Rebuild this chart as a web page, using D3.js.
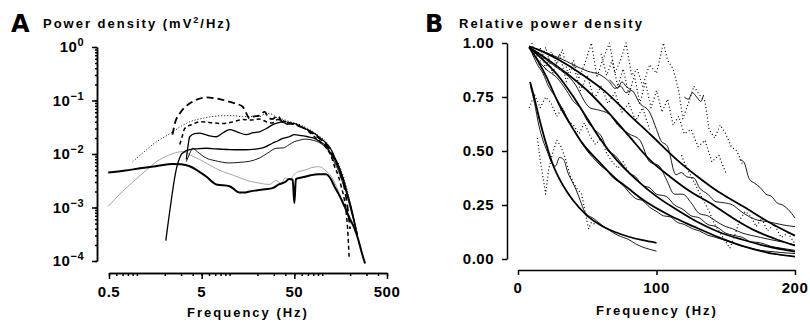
<!DOCTYPE html>
<html lang="en">
<head>
<meta charset="UTF-8" />
<title>Power density spectra</title>
<script src="https://d3js.org/d3.v7.min.js"></script>
<style>
  body { margin: 0; background: white; }
  svg { font-family: "Liberation Sans", Arial, sans-serif; font-weight: bold; }
  .axis path, .axis line { stroke: black; stroke-width: 1.5; }
  .axis text { display: none; }
  .lbl { font-size: 15px; fill: black; letter-spacing: 0.5px; }
  .title { font-size: 13px; letter-spacing: 2px; }
  .panel { font-size: 24px; font-family: "DejaVu Sans", sans-serif; }
  .curve { fill: none; stroke: black; stroke-linejoin: round; }
  .heavydash { stroke-width: 1.8; stroke-dasharray: 7 4; }
  .dotted { stroke-width: 1; stroke-dasharray: 1 2; }
  .dash { stroke-width: 1.5; stroke-dasharray: 4 3; }
  .solid { stroke-width: 1.3; }
  .thin { stroke-width: 0.9; }
  .gray { stroke: #9a9a9a; stroke-width: 0.9; }
  .thick { stroke-width: 2; }
  .fit { stroke-width: 1.8; }
  .noisy { stroke-width: 0.9; }
  .spotty { stroke-width: 1.2; stroke-dasharray: 1 2.5; }
</style>
</head>
<body>
<svg id="chart" width="810" height="322"></svg>
<script>
// ---- Panel A: power density spectra (Hz, mV^2/Hz)
const specHeavyDash = [[2.42,0.023],[2.6,0.04],[2.9,0.057],[3.3,0.075],[3.71,0.088],[4.5,0.105],[5.6,0.114],[7,0.11],[8.4,0.103],[11,0.09],[13.8,0.077],[15,0.06],[16.4,0.046],[18,0.05],[21,0.052],[24,0.062],[26,0.048],[29,0.045],[33,0.052],[37,0.04],[45,0.038],[56,0.033],[65,0.03],[80,0.024],[95,0.019],[110,0.015],[125,0.011],[135,0.008],[150,0.0055],[160,0.004],[172,0.0025],[185,0.0012],[200,0.0004]];
const specDotted = [[0.9,0.0072],[1.2,0.011],[1.63,0.017],[2,0.021],[2.44,0.026],[3,0.033],[3.71,0.04],[5,0.046],[6.5,0.05],[8.4,0.052],[11,0.052],[13.8,0.05],[17,0.05],[21,0.05],[25,0.058],[29,0.055],[33,0.047],[37,0.045],[45,0.04],[56,0.036],[70,0.03],[80,0.026],[95,0.021],[110,0.017],[125,0.012],[135,0.009],[150,0.0065],[160,0.005],[172,0.0035],[185,0.0022],[200,0.0012],[220,0.0006]];
const specDash = [[2.9,0.015],[3.1,0.022],[3.28,0.03],[4,0.036],[4.76,0.04],[6,0.039],[8.4,0.037],[11,0.04],[13.8,0.044],[17,0.043],[21,0.045],[25,0.04],[29,0.038],[33,0.044],[37,0.042],[45,0.037],[56,0.034],[70,0.027],[80,0.022],[95,0.017],[110,0.013],[125,0.009],[135,0.006],[150,0.0038],[160,0.0025],[172,0.0015],[180,0.0009],[188,0.0004],[195,0.00012]];
const specSolid1 = [[3.41,0.0079],[3.6,0.016],[3.71,0.021],[4.2,0.024],[4.76,0.0245],[5.5,0.023],[6.3,0.0215],[7.2,0.021],[8.5,0.025],[10,0.0285],[12,0.026],[15.1,0.023],[18,0.025],[21,0.026],[25,0.03],[29,0.035],[33,0.038],[37,0.04],[42,0.036],[50,0.037],[56,0.034],[65,0.03],[80,0.025],[95,0.02],[110,0.016],[125,0.012],[135,0.009],[150,0.006],[160,0.0045],[175,0.0028],[190,0.0016],[210,0.0008],[240,0.0003]];
const specSolid2 = [[2.05,0.00024],[2.2,0.0006],[2.38,0.0016],[2.55,0.0035],[2.7,0.0058],[2.9,0.0085],[3.05,0.0101],[3.71,0.0121],[4.5,0.0125],[5.6,0.0128],[7,0.0125],[10,0.0121],[13,0.012],[16.4,0.0121],[20,0.0125],[24,0.0135],[29,0.0159],[33,0.0175],[37,0.0194],[44,0.021],[50,0.023],[60,0.022],[70,0.021],[80,0.02],[95,0.017],[110,0.014],[125,0.01],[135,0.008],[150,0.0055],[160,0.004],[175,0.0025],[200,0.0012],[220,0.0006],[240,0.0003]];
const specThin = [[3.41,0.0072],[3.7,0.01],[4,0.0128],[4.5,0.011],[5.6,0.0084],[7,0.0075],[10,0.0068],[13,0.007],[16.4,0.0073],[21,0.0084],[26,0.0105],[31.8,0.0128],[38,0.013],[44,0.015],[50,0.017],[56,0.018],[65,0.019],[80,0.018],[95,0.016],[110,0.013],[125,0.0095],[135,0.007],[150,0.0048],[160,0.0035],[180,0.002],[200,0.001],[230,0.0004]];
const specGray = [[0.49,0.00105],[0.7,0.002],[1,0.0035],[1.3,0.0052],[1.63,0.0072],[2.2,0.0095],[3.12,0.0111],[3.8,0.0095],[4.76,0.0079],[6,0.0063],[8.4,0.0047],[11,0.004],[14,0.0034],[16.4,0.0031],[20,0.0029],[27,0.0027],[32,0.0032],[36,0.0028],[40,0.0036],[45,0.0033],[50,0.0042],[56,0.0047],[65,0.005],[75,0.0055],[93,0.0058],[110,0.0048],[125,0.0038],[135,0.003],[150,0.002],[160,0.0015],[180,0.0009],[200,0.0005]];
const specThick = [[0.49,0.0045],[0.75,0.0049],[1.08,0.0054],[1.6,0.0059],[2.44,0.0065],[3,0.0064],[3.71,0.0059],[4.6,0.0048],[5.6,0.0038],[7.19,0.0027],[10,0.0025],[12.8,0.0019],[14.5,0.0019],[16.4,0.002],[20,0.0021],[24,0.0022],[29,0.0023],[34,0.0027],[40,0.003],[44,0.0034],[48,0.0033],[50,0.0012],[52,0.0034],[58,0.0036],[66.8,0.0038],[75,0.004],[90,0.0042],[110,0.0042],[125,0.0033],[135,0.0025],[150,0.0018],[172,0.0011],[200,0.0006],[221,0.00042],[245,0.00025],[265,0.00015],[290,0.00009]];

const freqTicksA = [0.5, 5, 50, 500];
const powerTicksA = [1, 0.1, 0.01, 0.001, 0.0001];
const powerExpA = ["0", "\u22121", "\u22122", "\u22123", "\u22124"];

// ---- Panel B: relative power density (Hz, fraction)
const fitA = [[8.7,0.82],[12,0.74],[15,0.66],[20,0.54],[25,0.44],[30,0.37],[35,0.315],[40,0.27],[50,0.2],[60,0.155],[70,0.125],[80,0.103],[90,0.087],[100,0.075]];
const fitB = [[8,0.98],[15,0.91],[20,0.85],[30,0.71],[40,0.6],[46,0.54],[57,0.46],[70,0.375],[80,0.325],[90,0.275],[110,0.2],[127,0.15],[145,0.1],[163,0.058],[180,0.03],[200,0.011]];
const fitC = [[8,0.98],[20,0.91],[30,0.84],[39,0.76],[50,0.65],[60,0.55],[71,0.46],[85,0.37],[100,0.29],[115,0.227],[130,0.17],[145,0.125],[163,0.088],[180,0.058],[200,0.034]];
const fitD = [[8,0.98],[20,0.93],[35,0.86],[50,0.78],[65,0.68],[80,0.57],[95,0.46],[110,0.38],[125,0.31],[139,0.258],[155,0.19],[170,0.135],[185,0.095],[200,0.062]];
const fitE = [[8,0.985],[15,0.968],[30,0.92],[45,0.86],[63,0.775],[80,0.67],[96,0.574],[115,0.458],[130,0.38],[145,0.31],[163,0.242],[180,0.175],[200,0.108]];

const rawA = [[9,0.8],[12,0.72],[15,0.62],[18,0.55],[21,0.5],[24,0.45],[27,0.43],[30,0.47],[33,0.46],[36,0.4],[39,0.36],[42,0.32],[45,0.27],[48,0.22],[51,0.2],[54,0.19],[57,0.175],[60,0.16],[64,0.14],[68,0.125],[72,0.11],[76,0.1],[80,0.09],[85,0.07],[90,0.055],[95,0.045],[100,0.036]];
const rawB = [[9,0.97],[14,0.9],[18,0.86],[22,0.8],[26,0.76],[30,0.72],[35,0.66],[40,0.6],[45,0.55],[50,0.5],[54,0.47],[57,0.45],[60,0.43],[64,0.41],[68,0.38],[72,0.36],[76,0.34],[80,0.31],[85,0.28],[90,0.27],[95,0.24],[100,0.22],[105,0.2],[110,0.195],[115,0.17],[120,0.16],[126,0.14],[131,0.13],[137,0.11],[143,0.1],[150,0.085],[155,0.075],[162,0.06],[168,0.05],[175,0.04],[182,0.035],[190,0.03],[200,0.025]];
const rawC = [[10,0.96],[20,0.88],[28,0.84],[35,0.78],[40,0.73],[45,0.7],[50,0.64],[55,0.6],[60,0.57],[65,0.5],[70,0.48],[75,0.44],[80,0.4],[85,0.38],[90,0.34],[95,0.33],[100,0.3],[107,0.29],[113,0.25],[119,0.23],[125,0.2],[131,0.19],[137,0.16],[143,0.15],[150,0.12],[155,0.11],[162,0.1],[168,0.08],[175,0.075],[182,0.06],[190,0.05],[200,0.04]];
const rawD = [[10,0.97],[25,0.9],[40,0.82],[52,0.7],[58,0.69],[66,0.67],[72,0.62],[80,0.58],[88,0.55],[95,0.45],[102,0.43],[107,0.37],[113,0.3],[119,0.3],[125,0.26],[131,0.21],[137,0.2],[143,0.175],[150,0.15],[155,0.14],[162,0.12],[168,0.11],[175,0.1],[182,0.09],[190,0.08],[200,0.065]];
const rawE = [[10,0.98],[30,0.93],[50,0.87],[60,0.85],[66,0.82],[70,0.79],[74,0.8],[78,0.77],[82,0.78],[88,0.72],[95,0.68],[100,0.6],[103,0.55],[108,0.52],[114,0.39],[118,0.4],[122,0.38],[127,0.375],[131,0.33],[137,0.3],[143,0.265],[149,0.26],[155,0.25],[161,0.22],[167,0.196],[173,0.18],[180,0.173],[186,0.165],[192,0.157],[200,0.15]];
const rawWiggle1 = [[66,0.83],[69,0.81],[72,0.79],[75,0.82],[78,0.8],[82,0.78]];
const rawWiggle2 = [[120,0.75],[123,0.74],[126,0.77],[129,0.75],[132,0.73],[134,0.76]];
const rawF = [[160,0.46],[163,0.45],[167,0.37],[171,0.35],[175,0.33],[179,0.3],[183,0.29],[187,0.26],[191,0.25],[195,0.23],[200,0.19]];

const spotsTop = [[10,1.0],[13,0.93],[16,0.98],[20,0.88],[24,0.96],[28,0.9],[32,0.97],[36,0.86],[40,0.92],[44,0.84],[48,0.9],[53,1.0],[57,0.84],[61,0.92],[66,1.0],[70,0.86],[74,0.92],[78,1.0],[82,0.85],[86,0.88],[90,0.8],[95,0.9],[100,0.86],[105,1.0],[108,0.92],[112,0.88],[116,0.78],[119,0.65],[123,0.72],[127,0.8],[131,0.76],[135,0.73],[138,0.6],[142,0.56],[146,0.62],[150,0.58],[154,0.52],[158,0.5],[162,0.44]];
const spotsUpper = [[15,0.9],[20,0.98],[25,0.86],[30,0.95],[35,0.82],[40,0.9],[45,0.78],[50,0.85],[55,0.74],[60,0.8],[65,0.72],[70,0.77],[75,0.68],[80,0.72],[85,0.64],[90,0.7],[95,0.6]];
const spotsUpper2 = [[60,0.95],[64,0.85],[68,0.92],[72,0.8],[76,0.88],[80,0.76],[84,0.85],[88,0.72],[92,0.82],[96,0.7],[100,0.78],[104,0.68],[108,0.74],[112,0.62],[116,0.66],[120,0.58],[125,0.6],[130,0.52],[135,0.55],[140,0.45],[145,0.48],[150,0.4]];
const spotsMid = [[8,0.7],[12,0.76],[16,0.7],[20,0.75],[24,0.72],[28,0.66],[32,0.7],[36,0.64],[40,0.62],[44,0.58],[48,0.63],[52,0.57],[56,0.53],[60,0.56],[64,0.49],[68,0.45],[72,0.42],[76,0.45],[80,0.4],[85,0.37]];
const spotsLow = [[14,0.56],[16,0.46],[18,0.38],[20,0.3],[22,0.41],[25,0.49],[28,0.55],[31,0.52],[34,0.47],[38,0.38],[42,0.33],[46,0.3],[49,0.2],[51,0.14],[53,0.17],[56,0.16]];
const spotsRight = [[118,0.48],[122,0.42],[126,0.37],[130,0.32],[134,0.27],[138,0.22],[142,0.16],[146,0.12],[150,0.08],[153,0.05],[156,0.1],[160,0.18],[164,0.22],[168,0.2],[172,0.15],[176,0.19],[180,0.13],[185,0.16],[190,0.1],[195,0.12],[200,0.07]];

const freqTicksB = [0, 100, 200];
const relTicksB = [0, 0.25, 0.5, 0.75, 1];

const svg = d3.select("#chart");

// ================= Panel A =================
const xA = d3.scaleLog().domain([0.5, 500]).range([109, 387]);
const yA = d3.scaleLog().domain([1e-4, 1]).range([261, 47]);

const seriesA = [
  { data: specGray, cls: "gray" },
  { data: specThin, cls: "thin" },
  { data: specSolid2, cls: "solid" },
  { data: specSolid1, cls: "solid" },
  { data: specDash, cls: "dash" },
  { data: specDotted, cls: "dotted" },
  { data: specHeavyDash, cls: "heavydash" },
  { data: specThick, cls: "thick" }
];

const lineA = d3.line().x(d => xA(d[0])).y(d => yA(d[1])).curve(d3.curveMonotoneX);

svg.append("g").selectAll("path")
  .data(seriesA)
  .join("path")
  .attr("class", d => "curve " + d.cls)
  .attr("d", d => lineA(d.data));

// y axis (log) with minor ticks
const yAxisA = svg.append("g").attr("class", "axis").attr("transform", "translate(97,0)");
yAxisA.call(d3.axisLeft(yA).tickValues(yA.ticks()).tickSize(2).tickSizeOuter(0).tickFormat(""));
yAxisA.append("g").call(d3.axisLeft(yA).tickValues(powerTicksA).tickSize(5).tickSizeOuter(0).tickFormat(""));

powerTicksA.forEach((v, i) => {
  const t = svg.append("text").attr("class", "lbl")
    .attr("x", 84).attr("y", yA(v) + 5).attr("text-anchor", "end");
  t.append("tspan").text("10");
  t.append("tspan").attr("dy", -6).style("font-size", "11px").text(powerExpA[i]);
});

// x axis (log) with minor ticks
const xAxisA = svg.append("g").attr("class", "axis").attr("transform", "translate(0,273)");
xAxisA.call(d3.axisBottom(xA).tickValues(xA.ticks()).tickSize(3).tickSizeOuter(0).tickFormat(""));
xAxisA.append("g").call(d3.axisBottom(xA).tickValues(freqTicksA).tickSize(6).tickSizeOuter(0).tickFormat(""));

svg.append("g").selectAll("text")
  .data(freqTicksA)
  .join("text")
  .attr("class", "lbl")
  .attr("x", d => xA(d))
  .attr("y", 297)
  .attr("text-anchor", "middle")
  .text(d => d);

svg.append("text").attr("class", "lbl title").attr("x", 248).attr("y", 317)
  .attr("text-anchor", "middle").text("Frequency (Hz)");

svg.append("text").attr("class", "panel").attr("x", 11).attr("y", 32).text("A");
const titleA = svg.append("text").attr("class", "title").attr("x", 43).attr("y", 28);
titleA.append("tspan").text("Power density (mV");
titleA.append("tspan").attr("dy", -5).style("font-size", "9px").text("2");
titleA.append("tspan").attr("dy", 5).text("/Hz)");

// ================= Panel B =================
const xB = d3.scaleLinear().domain([0, 200]).range([518, 795]);
const yB = d3.scaleLinear().domain([0, 1]).range([259, 43]);

const seriesB = [
  { data: spotsTop, cls: "spotty", smooth: false },
  { data: spotsUpper, cls: "spotty", smooth: false },
  { data: spotsUpper2, cls: "spotty", smooth: false },
  { data: spotsMid, cls: "spotty", smooth: false },
  { data: spotsLow, cls: "spotty", smooth: false },
  { data: spotsRight, cls: "spotty", smooth: false },
  { data: rawA, cls: "noisy", smooth: true },
  { data: rawB, cls: "noisy", smooth: true },
  { data: rawC, cls: "noisy", smooth: true },
  { data: rawD, cls: "noisy", smooth: true },
  { data: rawE, cls: "noisy", smooth: true },
  { data: rawWiggle1, cls: "noisy", smooth: true },
  { data: rawWiggle2, cls: "noisy", smooth: true },
  { data: rawF, cls: "noisy", smooth: true },
  { data: fitA, cls: "fit", smooth: true },
  { data: fitB, cls: "fit", smooth: true },
  { data: fitC, cls: "fit", smooth: true },
  { data: fitD, cls: "fit", smooth: true },
  { data: fitE, cls: "fit", smooth: true }
];

const lineB = d3.line().x(d => xB(d[0])).y(d => yB(d[1])).curve(d3.curveMonotoneX);
const lineBSharp = d3.line().x(d => xB(d[0])).y(d => yB(d[1]));

svg.append("g").selectAll("path")
  .data(seriesB)
  .join("path")
  .attr("class", d => "curve " + d.cls)
  .attr("d", d => (d.smooth ? lineB : lineBSharp)(d.data));

svg.append("g").attr("class", "axis").attr("transform", "translate(507,0)")
  .call(d3.axisLeft(yB).tickValues(relTicksB).tickSize(5).tickSizeOuter(0).tickFormat(""));

svg.append("g").selectAll("text")
  .data(relTicksB)
  .join("text")
  .attr("class", "lbl")
  .attr("x", 494)
  .attr("y", d => yB(d) + 5)
  .attr("text-anchor", "end")
  .text(d => d.toFixed(2));

svg.append("g").attr("class", "axis").attr("transform", "translate(0,270)")
  .call(d3.axisBottom(xB).tickValues(freqTicksB).tickSize(5).tickSizeOuter(0).tickFormat(""));

svg.append("g").selectAll("text")
  .data(freqTicksB)
  .join("text")
  .attr("class", "lbl")
  .attr("x", d => xB(d))
  .attr("y", 293)
  .attr("text-anchor", "middle")
  .text(d => d);

svg.append("text").attr("class", "lbl title").attr("x", 657).attr("y", 315)
  .attr("text-anchor", "middle").text("Frequency (Hz)");

svg.append("text").attr("class", "panel").attr("x", 425).attr("y", 32).text("B");
svg.append("text").attr("class", "title").attr("x", 459).attr("y", 28).text("Relative power density");
</script>
</body>
</html>
